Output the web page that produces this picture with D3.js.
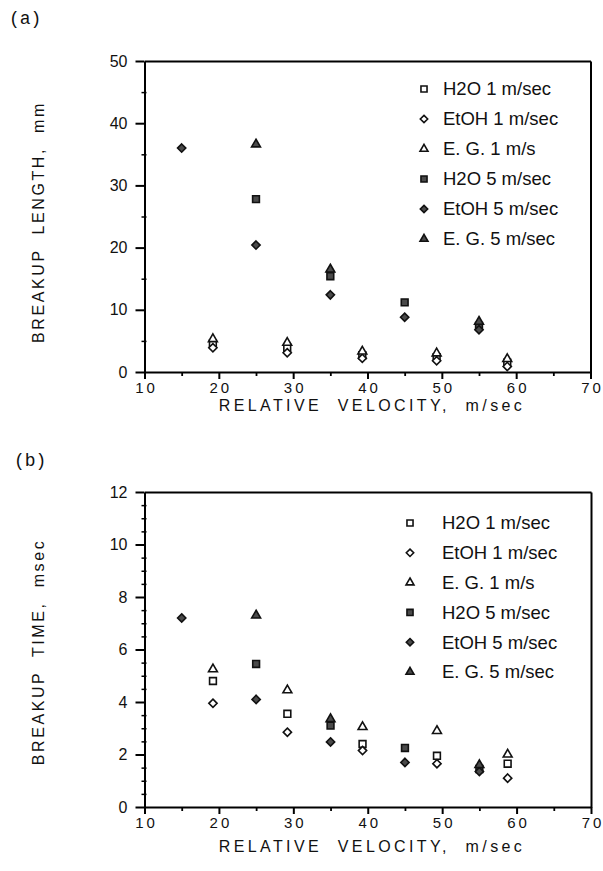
<!DOCTYPE html>
<html>
<head>
<meta charset="utf-8">
<script src="https://cdn.jsdelivr.net/npm/d3@7"></script>
<style>
  html, body { margin: 0; padding: 0; background: #fff; }
  svg { display: block; }
  text { fill: #111; }
</style>
</head>
<body>
<div id="chart"></div>
<script>
/*************** DATA ***************/
// legend entries, same order in both panels
var seriesNames = ['H2O 1 m/sec', 'EtOH 1 m/sec', 'E. G. 1 m/s', 'H2O 5 m/sec', 'EtOH 5 m/sec', 'E. G. 5 m/sec'];
var seriesShapes = ['square', 'diamond', 'triangle', 'square', 'diamond', 'triangle'];
var seriesFilled = [false, false, false, true, true, true];

// relative velocity, m/sec (1 m/sec runs and 5 m/sec runs)
var velocity1 = [19.2, 29.2, 39.3, 49.3, 58.8];
var velocity5 = [15, 25, 35, 45, 55];

// (a) breakup length, mm
var lengthH2O1  = [4.6, 3.9, 2.7, 2.4, 1.5];
var lengthEtOH1 = [3.9, 3.1, 2.2, 1.8, 0.9];
var lengthEG1   = [5.3, 4.7, 3.3, 3.0, 2.1];
var lengthH2O5  = [null, 27.8, 15.4, 11.2, 7.4];
var lengthEtOH5 = [36.0, 20.4, 12.4, 8.8, 6.8];
var lengthEG5   = [null, 36.6, 16.5, null, 8.1];

// (b) breakup time, msec
var timeH2O1  = [4.8, 3.55, 2.4, 1.95, 1.65];
var timeEtOH1 = [3.95, 2.85, 2.15, 1.65, 1.1];
var timeEG1   = [5.25, 4.45, 3.05, 2.9, 2.0];
var timeH2O5  = [null, 5.45, 3.1, 2.25, 1.45];
var timeEtOH5 = [7.2, 4.1, 2.48, 1.7, 1.35];
var timeEG5   = [null, 7.3, 3.35, null, 1.6];

// axis ticks
var xTicks = [10, 20, 30, 40, 50, 60, 70];
var xMinorTicks = [15, 25, 35, 45, 55, 65];
var lengthTicks = [0, 10, 20, 30, 40, 50];
var lengthMinor = [5, 15, 25, 35, 45];
var timeTicks = [0, 2, 4, 6, 8, 10, 12];
var timeMinor = [0.5, 1, 1.5, 2.5, 3, 3.5, 4.5, 5, 5.5, 6.5, 7, 7.5, 8.5, 9, 9.5, 10.5, 11, 11.5];

/*************** DRAWING ***************/
var width = 603, height = 871;
var svg = d3.select('#chart').append('svg')
  .attr('width', width)
  .attr('height', height)
  .attr('viewBox', [0, 0, width, height]);

var diamondType = {
  draw: function(ctx, size) {
    var r = Math.sqrt(size / 2);
    ctx.moveTo(0, -r); ctx.lineTo(r, 0); ctx.lineTo(0, r); ctx.lineTo(-r, 0); ctx.closePath();
  }
};
var shapeTypes = { square: d3.symbolSquare, diamond: diamondType, triangle: d3.symbolTriangle };
var shapeSizes = { square: 46, diamond: 34, triangle: 34 };

function symbolPath(shape, scale) {
  return d3.symbol().type(shapeTypes[shape]).size(shapeSizes[shape] * scale)();
}

// "10" -> "1 0" with a thin space, like the typewriter-spaced labels of the original
function spacedDigits(d) {
  return String(d).split('').join('\u2009');
}

// make every line of an axis group solid black
function inkAxis(a, w) {
  a.select('.domain').attr('stroke', '#000').attr('stroke-width', 2);
  a.selectAll('.tick line').attr('stroke', '#000').attr('stroke-width', w);
}

function drawPanel(opt) {
  var x = d3.scaleLinear().domain([10, 70]).range(opt.xRange);
  var y = d3.scaleLinear().domain(opt.yDomain).range(opt.yRange);
  var g = svg.append('g');

  // plot frame: top and right edges as bare axes
  g.append('g')
    .attr('transform', 'translate(0,' + y(opt.yDomain[1]) + ')')
    .call(d3.axisTop(x).tickValues([]).tickSizeOuter(0))
    .call(a => inkAxis(a, 1.5));
  g.append('g')
    .attr('transform', 'translate(' + x(70) + ',0)')
    .call(d3.axisRight(y).tickValues([]).tickSizeOuter(0))
    .call(a => inkAxis(a, 1.5));

  // x axis
  var xAxis = g.append('g')
    .attr('transform', 'translate(0,' + y(0) + ')')
    .call(d3.axisBottom(x).tickValues(xTicks).tickSize(7).tickSizeOuter(0).tickPadding(3).tickFormat(spacedDigits))
    .call(a => inkAxis(a, 2));
  xAxis.selectAll('.tick text')
    .attr('font-family', 'Liberation Sans, Arial, sans-serif')
    .attr('font-size', 15)
    .attr('fill', '#111');
  g.append('g')
    .attr('transform', 'translate(0,' + y(0) + ')')
    .call(d3.axisBottom(x).tickValues(xMinorTicks).tickSize(4).tickFormat(''))
    .call(a => inkAxis(a, 1.8))
    .call(a => a.select('.domain').remove());

  // y axis
  var yAxis = g.append('g')
    .attr('transform', 'translate(' + x(10) + ',0)')
    .call(d3.axisLeft(y).tickValues(opt.yTicks).tickSize(9).tickSizeOuter(0).tickPadding(8))
    .call(a => inkAxis(a, 2));
  yAxis.selectAll('.tick text')
    .attr('font-family', 'Liberation Sans, Arial, sans-serif')
    .attr('font-size', 16)
    .attr('fill', '#111');
  g.append('g')
    .attr('transform', 'translate(' + (x(10) + 2) + ',0)')
    .call(d3.axisLeft(y).tickValues(opt.yMinor).tickSize(5).tickFormat(''))
    .call(a => inkAxis(a, 1.5))
    .call(a => a.select('.domain').remove());

  // axis titles
  g.append('text')
    .attr('x', opt.xTitlePos[0]).attr('y', opt.xTitlePos[1])
    .attr('text-anchor', 'middle')
    .attr('font-family', 'Liberation Sans, Arial, sans-serif')
    .attr('font-size', 16)
    .attr('letter-spacing', 3.4)
    .style('white-space', 'pre')
    .text('RELATIVE  VELOCITY,  m/sec');

  g.append('text')
    .attr('transform', 'translate(' + opt.yTitlePos[0] + ',' + opt.yTitlePos[1] + ') rotate(-90)')
    .attr('text-anchor', 'middle')
    .attr('font-family', 'Liberation Sans, Arial, sans-serif')
    .attr('font-size', 16)
    .attr('letter-spacing', 2.6)
    .style('white-space', 'pre')
    .text(opt.yTitle);

  // panel label
  g.append('text')
    .attr('x', opt.labelPos[0]).attr('y', opt.labelPos[1])
    .attr('font-family', 'Liberation Mono, Courier New, monospace')
    .attr('font-size', 18)
    .text(opt.label);

  // points
  opt.series.forEach(function(vals, i) {
    var xs = i < 3 ? velocity1 : velocity5;
    var pts = vals.map((v, j) => ({ x: xs[j], y: v })).filter(d => d.y !== null);
    g.selectAll(null)
      .data(pts)
      .enter()
      .append('path')
      .attr('transform', d => 'translate(' + x(d.x) + ',' + y(d.y) + ')')
      .attr('d', symbolPath(seriesShapes[i], 1))
      .attr('fill', seriesFilled[i] ? '#4a4a4a' : '#fff')
      .attr('stroke', '#111')
      .attr('stroke-width', 1.6);
  });

  // legend
  var leg = g.append('g');
  seriesNames.forEach(function(name, i) {
    var ly = opt.legendY + i * opt.legendStep;
    leg.append('path')
      .attr('transform', 'translate(' + opt.legendMarkX + ',' + ly + ')')
      .attr('d', symbolPath(seriesShapes[i], 0.8))
      .attr('fill', seriesFilled[i] ? '#4a4a4a' : '#fff')
      .attr('stroke', '#111')
      .attr('stroke-width', 1.6);
    leg.append('text')
      .attr('x', opt.legendTextX).attr('y', ly)
      .attr('dy', '0.35em')
      .attr('font-family', 'Liberation Sans, Arial, sans-serif')
      .attr('font-size', 18.5)
      .text(name);
  });
}

drawPanel({
  label: '(a)', labelPos: [9, 24],
  xRange: [144.5, 590.5], yRange: [372, 61], yDomain: [0, 50],
  yTicks: lengthTicks, yMinor: lengthMinor,
  yTitle: 'BREAKUP  LENGTH,  mm', yTitlePos: [44, 222], xTitlePos: [372, 411],
  series: [lengthH2O1, lengthEtOH1, lengthEG1, lengthH2O5, lengthEtOH5, lengthEG5],
  legendMarkX: 424, legendTextX: 443, legendY: 89, legendStep: 30
});

drawPanel({
  label: '(b)', labelPos: [14, 466],
  xRange: [144.5, 591], yRange: [807, 492], yDomain: [0, 12],
  yTicks: timeTicks, yMinor: timeMinor,
  yTitle: 'BREAKUP  TIME,  msec', yTitlePos: [44, 652], xTitlePos: [372, 852],
  series: [timeH2O1, timeEtOH1, timeEG1, timeH2O5, timeEtOH5, timeEG5],
  legendMarkX: 410, legendTextX: 442, legendY: 523, legendStep: 29.8
});
</script>
</body>
</html>
